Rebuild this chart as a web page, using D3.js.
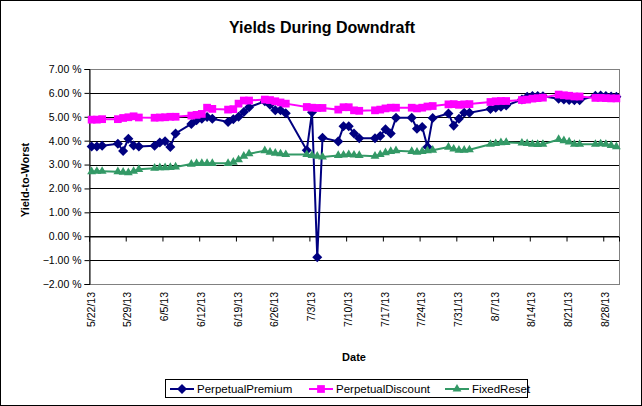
<!DOCTYPE html>
<html>
<head>
<meta charset="utf-8">
<script src="https://cdn.jsdelivr.net/npm/d3@7"></script>
<style>
body { margin: 0; background: #fff; }
text { font-family: "Liberation Sans", Arial, sans-serif; }
</style>
</head>
<body>
<script>
// trading days (Canadian market, so 7/1 and 8/5 are missing)
var dates = [
 "5/22/13","5/23/13","5/24/13",
 "5/27/13","5/28/13","5/29/13","5/30/13","5/31/13",
 "6/3/13","6/4/13","6/5/13","6/6/13","6/7/13",
 "6/10/13","6/11/13","6/12/13","6/13/13","6/14/13",
 "6/17/13","6/18/13","6/19/13","6/20/13","6/21/13",
 "6/24/13","6/25/13","6/26/13","6/27/13","6/28/13",
 "7/2/13","7/3/13","7/4/13","7/5/13",
 "7/8/13","7/9/13","7/10/13","7/11/13","7/12/13",
 "7/15/13","7/16/13","7/17/13","7/18/13","7/19/13",
 "7/22/13","7/23/13","7/24/13","7/25/13","7/26/13",
 "7/29/13","7/30/13","7/31/13","8/1/13","8/2/13",
 "8/6/13","8/7/13","8/8/13","8/9/13",
 "8/12/13","8/13/13","8/14/13","8/15/13","8/16/13",
 "8/19/13","8/20/13","8/21/13","8/22/13","8/23/13",
 "8/26/13","8/27/13","8/28/13","8/29/13","8/30/13"];

var perpetualPremium = [
 3.76,3.76,3.79,
 3.87,3.57,4.08,3.80,3.76,
 3.79,3.92,3.98,3.74,4.30,
 4.70,4.85,4.92,4.99,4.92,
 4.78,4.90,5.00,5.20,5.40,
 5.65,5.50,5.27,5.27,5.15,
 3.60,5.19,-0.88,4.12,
 3.97,4.60,4.60,4.30,4.10,
 4.10,4.20,4.48,4.30,4.96,
 4.96,4.50,4.57,3.74,4.95,
 5.14,4.63,4.92,5.17,5.17,
 5.33,5.38,5.42,5.47,
 5.72,5.84,5.87,5.87,5.86,
 5.75,5.72,5.70,5.69,5.69,
 5.88,5.89,5.87,5.85,5.84];

var perpetualDiscount = [
 4.88,4.88,4.90,
 4.90,4.95,4.98,5.02,4.97,
 4.96,4.97,4.98,5.00,5.00,
 5.05,5.08,5.12,5.38,5.33,
 5.30,5.32,5.55,5.68,5.68,
 5.72,5.70,5.65,5.60,5.55,
 5.41,5.38,5.37,5.37,
 5.30,5.40,5.40,5.27,5.25,
 5.27,5.30,5.35,5.38,5.38,
 5.38,5.35,5.38,5.43,5.45,
 5.52,5.53,5.50,5.52,5.53,
 5.62,5.65,5.66,5.66,
 5.70,5.72,5.76,5.78,5.80,
 5.93,5.90,5.88,5.85,5.85,
 5.79,5.79,5.78,5.77,5.77];

var fixedReset = [
 2.70,2.72,2.72,
 2.70,2.68,2.66,2.72,2.80,
 2.85,2.87,2.87,2.88,2.90,
 3.02,3.05,3.05,3.05,3.05,
 3.05,3.10,3.20,3.35,3.45,
 3.58,3.52,3.48,3.45,3.42,
 3.42,3.38,3.35,3.32,
 3.38,3.40,3.42,3.40,3.38,
 3.35,3.42,3.50,3.55,3.58,
 3.55,3.52,3.55,3.58,3.60,
 3.73,3.65,3.60,3.60,3.62,
 3.85,3.88,3.92,3.93,
 3.90,3.88,3.85,3.84,3.85,
 4.05,4.00,3.95,3.85,3.85,
 3.85,3.87,3.85,3.80,3.75];

var seriesNames = ["PerpetualPremium","PerpetualDiscount","FixedReset"];
var yTicks = [-2,-1,0,1,2,3,4,5,6,7];
var xTickLabels = ["5/22/13","5/29/13","6/5/13","6/12/13","6/19/13","6/26/13","7/3/13",
 "7/10/13","7/17/13","7/24/13","7/31/13","8/7/13","8/14/13","8/21/13","8/28/13"];

var svgContainer, x, y;
var parseDate = d3.timeParse("%m/%d/%y");

function init(){
svgContainer = d3.select("body").append("svg")
    .attr("width", 642)
    .attr("height", 406);

// chart border
svgContainer.append("rect")
    .attr("x", 0.5).attr("y", 0.5)
    .attr("width", 641).attr("height", 405)
    .attr("fill", "white")
    .attr("stroke", "black");

var left = 89, right = 619, top = 69, bottom = 284;

x = d3.scaleTime()
    .domain([new Date(2013,4,22), new Date(2013,7,31)])
    .range([left, right]);
y = d3.scaleLinear()
    .domain([-2, 7])
    .range([bottom, top]);

// gridlines
svgContainer.append("g")
    .selectAll("line")
    .data(yTicks.slice(1, -1))
    .enter()
    .append("line")
    .attr("x1", left).attr("x2", right)
    .attr("y1", function(d){ return Math.round(y(d)) + 0.5; })
    .attr("y2", function(d){ return Math.round(y(d)) + 0.5; })
    .attr("stroke", "black");

// plot area border
svgContainer.append("rect")
    .attr("x", left + 0.5).attr("y", top + 0.5)
    .attr("width", right - left).attr("height", bottom - top)
    .attr("fill", "none")
    .attr("stroke", "#808080");

// y axis
var yAxis = d3.axisLeft(y)
    .tickValues(yTicks)
    .tickSize(5)
    .tickPadding(3)
    .tickFormat(function(d){ return d3.format(".2f")(d) + " %"; });
var yg = svgContainer.append("g")
    .attr("transform", "translate(" + (left + 0.5) + ",0)")
    .call(yAxis);
yg.select(".domain").attr("stroke", "black");
yg.selectAll(".tick line").attr("stroke", "black");
yg.selectAll("text")
    .attr("font-size", "10.5px")
    .attr("font-family", "Liberation Sans, Arial, sans-serif")
    .attr("fill", "black");

// x axis crosses at 0 %, labels sit under the plot area
var tickDates = xTickLabels.map(parseDate);
var xAxis = d3.axisBottom(x)
    .tickValues(tickDates)
    .tickSize(5)
    .tickFormat("");
var xg = svgContainer.append("g")
    .attr("transform", "translate(0," + (Math.round(y(0)) + 0.5) + ")")
    .call(xAxis);
xg.select(".domain").attr("stroke", "black");
xg.selectAll(".tick line").attr("stroke", "black");

svgContainer.append("g")
    .selectAll("text")
    .data(xTickLabels)
    .enter()
    .append("text")
    .attr("transform", function(d){ return "translate(" + (x(parseDate(d)) + 2) + ",292) rotate(-90)"; })
    .attr("dy", "0.35em")
    .attr("text-anchor", "end")
    .attr("font-size", "10.5px")
    .attr("fill", "black")
    .text(function(d){ return d; });

// series
var colors = ["#000080", "#ff00ff", "#339966"];
var values = [perpetualPremium, perpetualDiscount, fixedReset];
var symbols = [d3.symbolDiamond2, d3.symbolSquare, d3.symbolTriangle];
var sizes = [64, 60, 34];

var line = d3.line()
    .x(function(d){ return x(d.date); })
    .y(function(d){ return y(d.v); });

values.forEach(function(vals, i){
    var pts = vals.map(function(v, j){
        return { date: d3.timeHour.offset(parseDate(dates[j]), 12), v: v };
    });
    svgContainer.append("path")
        .datum(pts)
        .attr("d", line)
        .attr("fill", "none")
        .attr("stroke", colors[i])
        .attr("stroke-width", 2);
    svgContainer.append("g")
        .selectAll("path")
        .data(pts)
        .enter()
        .append("path")
        .attr("d", d3.symbol().type(symbols[i]).size(sizes[i]))
        .attr("transform", function(d){ return "translate(" + x(d.date) + "," + y(d.v) + ")"; })
        .attr("fill", colors[i]);
});

// title and axis titles
svgContainer.append("text")
    .attr("x", 322).attr("y", 33)
    .attr("text-anchor", "middle")
    .attr("font-size", "16px")
    .attr("font-weight", "bold")
    .text("Yields During Downdraft");

svgContainer.append("text")
    .attr("transform", "translate(29,180) rotate(-90)")
    .attr("text-anchor", "middle")
    .attr("font-size", "11px")
    .attr("font-weight", "bold")
    .text("Yield-to-Worst");

svgContainer.append("text")
    .attr("x", 354).attr("y", 361)
    .attr("text-anchor", "middle")
    .attr("font-size", "11px")
    .attr("font-weight", "bold")
    .text("Date");

// legend
var legend = svgContainer.append("g");
legend.append("rect")
    .attr("x", 165.5).attr("y", 379.5)
    .attr("width", 362).attr("height", 18)
    .attr("fill", "white")
    .attr("stroke", "black");
var legendX = [170, 309, 445];
seriesNames.forEach(function(name, i){
    legend.append("line")
        .attr("x1", legendX[i]).attr("x2", legendX[i] + 24)
        .attr("y1", 389).attr("y2", 389)
        .attr("stroke", colors[i])
        .attr("stroke-width", 2);
    legend.append("path")
        .attr("d", d3.symbol().type(symbols[i]).size(sizes[i]))
        .attr("transform", "translate(" + (legendX[i] + 12) + ",389)")
        .attr("fill", colors[i]);
    legend.append("text")
        .attr("x", legendX[i] + 27).attr("y", 393)
        .attr("font-size", "11.5px")
        .text(name);
});
}

init();
</script>
</body>
</html>
